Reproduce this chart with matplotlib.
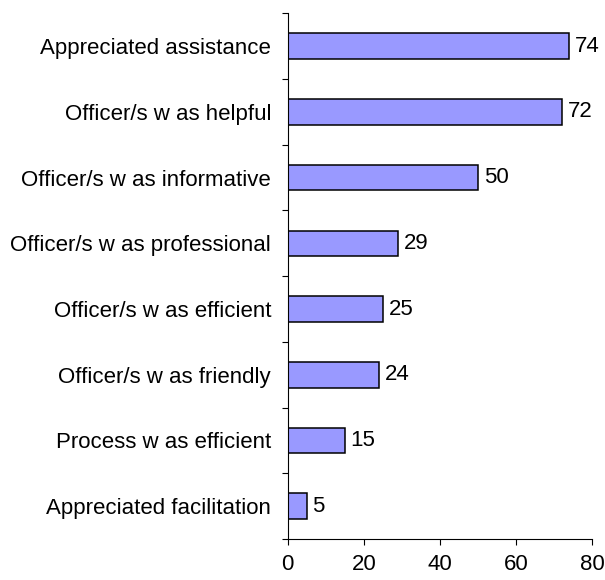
import numpy as np
from matplotlib import pyplot as plt

plt.rcParams['font.family'] = ['Liberation Sans', 'DejaVu Sans']

# responses, top to bottom
reasons = ['Appreciated assistance', 'Officer/s w as helpful',
           'Officer/s w as informative', 'Officer/s w as professional',
           'Officer/s w as efficient', 'Officer/s w as friendly',
           'Process w as efficient', 'Appreciated facilitation']
counts = [74, 72, 50, 29, 25, 24, 15, 5]
xticks = [0, 20, 40, 60, 80]

fig = plt.figure(figsize=(6.05, 5.8), dpi=100)
ax = fig.add_axes([0.4755, 0.0707, 0.5035, 0.9063])

y = np.arange(len(reasons))[::-1]
ax.barh(y, counts, height=0.39, color='#9999FF', edgecolor='black', linewidth=1.1)
for yi, c in zip(y, counts):
    ax.annotate(str(c), (c, yi), xytext=(4, 0), textcoords='offset points',
                va='center', ha='left', fontsize=16)

ax.set_xlim(0, 80)
ax.set_ylim(-0.5, len(reasons) - 0.5)
ax.set_xticks(xticks)
ax.set_yticks(y)
ax.set_yticklabels(reasons)
ax.set_yticks(np.arange(len(reasons) + 1) - 0.5, minor=True)
ax.tick_params(axis='y', which='major', length=0, pad=12, labelsize=16)
ax.tick_params(axis='y', which='minor', length=4, width=0.8, direction='out')
ax.tick_params(axis='x', length=4.5, width=0.8, pad=6, labelsize=16)
for s in ['top', 'right']:
    ax.spines[s].set_visible(False)
for s in ['left', 'bottom']:
    ax.spines[s].set_linewidth(0.8)

plt.savefig('out.png', dpi=100)
